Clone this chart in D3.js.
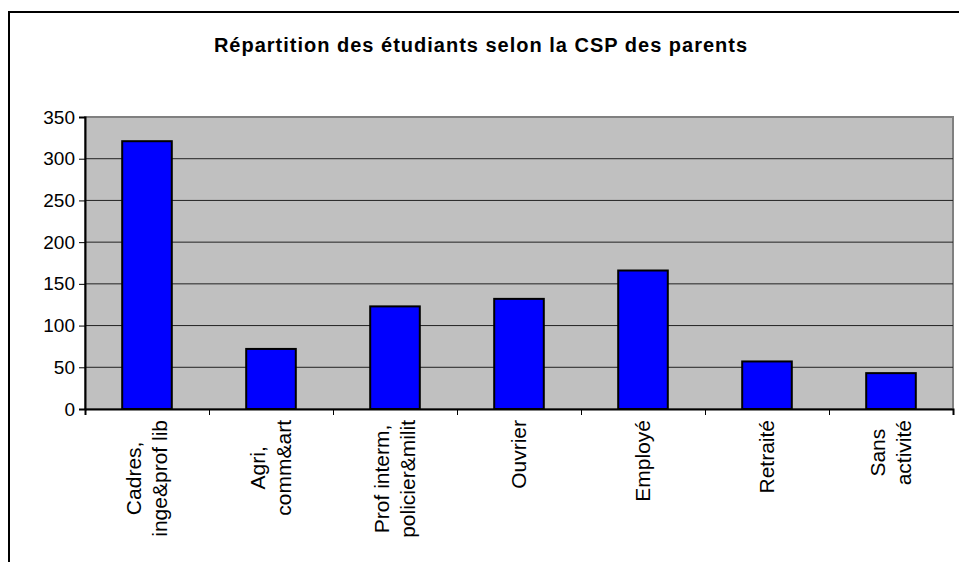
<!DOCTYPE html>
<html>
<head>
<meta charset="utf-8">
<script src="https://cdn.jsdelivr.net/npm/d3@7"></script>
<style>
  body { margin: 0; background: #fff; }
  text { font-family: "Liberation Sans", Arial, sans-serif; fill: #000; }
</style>
</head>
<body>
<svg id="chart" width="959" height="562"></svg>
<script>
var categories = [
  ["Cadres,", "inge&prof lib"],
  ["Agri,", "comm&art"],
  ["Prof interm,", "policier&milit"],
  ["Ouvrier"],
  ["Employé"],
  ["Retraité"],
  ["Sans", "activité"]
];
var values = [321, 72, 123, 132, 166, 57, 43];
var yTicks = [0, 50, 100, 150, 200, 250, 300, 350];
var title = "Répartition des étudiants selon la CSP des parents";

var svg = d3.select("#chart"),
    margin = {top: 117, right: 6, bottom: 153, left: 85},
    width = +svg.attr("width") - margin.left - margin.right,
    height = +svg.attr("height") - margin.top - margin.bottom;

// outer chart frame (runs past the window on the right and bottom)
svg.append("rect")
    .attr("x", 9).attr("y", 12)
    .attr("width", 1000).attr("height", 600)
    .attr("fill", "none")
    .attr("stroke", "#000")
    .attr("stroke-width", 2);

svg.append("text")
    .attr("x", 481).attr("y", 52)
    .attr("text-anchor", "middle")
    .style("font-size", "20px")
    .style("font-weight", "bold")
    .style("letter-spacing", "1px")
    .text(title);

var x = d3.scaleBand()
    .domain(d3.range(categories.length))
    .range([0, width])
    .paddingInner(0.6)
    .paddingOuter(0.3);

var y = d3.scaleLinear().domain([0, 350]).range([height, 0]);

var g = svg.append("g")
    .attr("transform", "translate(" + margin.left + "," + margin.top + ")");

// plot area
g.append("rect")
    .attr("width", width).attr("height", height)
    .attr("fill", "#c0c0c0")
    .attr("stroke", "#808080")
    .attr("stroke-width", 2);

// gridlines
g.append("g")
    .selectAll("line")
    .data(yTicks.slice(1, -1))
    .enter().append("line")
    .attr("x1", 0).attr("x2", width)
    .attr("y1", function(d) { return y(d); })
    .attr("y2", function(d) { return y(d); })
    .attr("stroke", "#222")
    .attr("stroke-width", 1);

g.selectAll(".bar")
  .data(values)
  .enter().append("rect")
    .attr("class", "bar")
    .attr("x", function(d, i) { return x(i); })
    .attr("y", function(d) { return y(d); })
    .attr("width", x.bandwidth())
    .attr("height", function(d) { return height - y(d); })
    .attr("fill", "#0000ff")
    .attr("stroke", "#000")
    .attr("stroke-width", 2);

// y axis
var yAxis = g.append("g")
    .call(d3.axisLeft(y).tickValues(yTicks).tickSize(6).tickPadding(4));
yAxis.select(".domain").attr("stroke", "#000").attr("stroke-width", 2);
yAxis.selectAll("line").attr("stroke", "#000");
yAxis.selectAll("text")
    .style("font-size", "19px")
    .style("font-family", "'Liberation Sans', Arial, sans-serif");

// x axis: ticks on category boundaries
var xb = d3.scaleLinear().domain([0, categories.length]).range([0, width]);
var xAxis = g.append("g")
    .attr("transform", "translate(0," + height + ")")
    .call(d3.axisBottom(xb).ticks(categories.length).tickSize(6).tickFormat(""));
xAxis.select(".domain").attr("stroke", "#000").attr("stroke-width", 2);
xAxis.selectAll("line").attr("stroke", "#000");

// rotated category labels, each line centred in its block
var lineGap = 26, labelTop = height + 11;
categories.forEach(function(lines, i) {
  var cx = x(i) + x.bandwidth() / 2;
  var lab = g.append("g");
  var texts = lines.map(function(s) {
    return lab.append("text")
        .attr("text-anchor", "middle")
        .style("font-size", "21px")
        .text(s);
  });
  var maxLen = d3.max(texts, function(t) { return t.node().getComputedTextLength(); });
  texts.forEach(function(t, k) {
    var lx = cx + (k - (lines.length - 1) / 2) * lineGap;
    var ly = labelTop + maxLen / 2;
    t.attr("transform", "translate(" + lx + "," + ly + ") rotate(-90)")
     .attr("dy", "0.35em");
  });
});
</script>
</body>
</html>
